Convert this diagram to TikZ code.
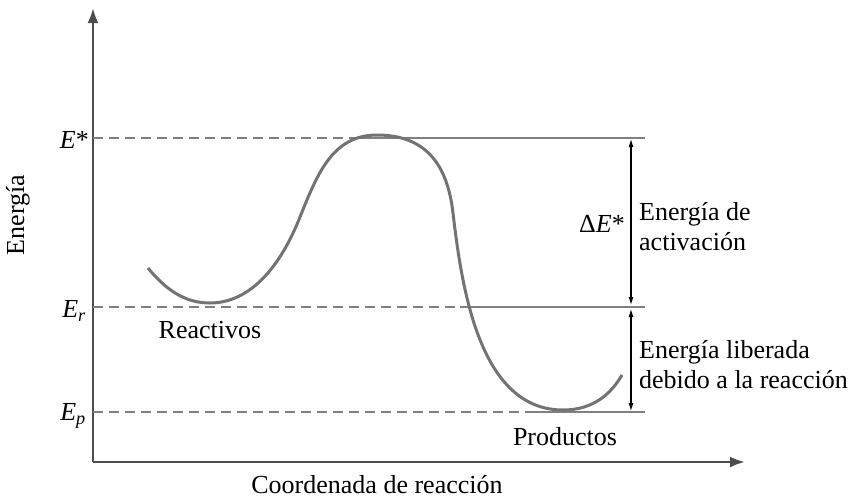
\documentclass[tikz,border=0pt]{standalone}
\usepackage{fontspec}
\setmainfont{Liberation Serif}
\usetikzlibrary{arrows.meta}

\begin{document}
\begin{tikzpicture}[x=1pt,y=-1pt,
    every node/.style={font=\fontsize{26}{30}\selectfont, inner sep=1pt},
    eje/.style={line width=2.6pt, black!70, -{Latex[length=15pt,width=11pt]}},
    nivel/.style={line width=2.2pt, black!50},
    nivelpunt/.style={nivel, dash pattern=on 10pt off 6pt},
    curva/.style={line width=3pt, black!55},
    flecha/.style={line width=1.1pt, {Latex[length=8pt,width=5pt]}-{Latex[length=8pt,width=5pt]}}]
    \useasboundingbox (0,0) rectangle (860,499);
    % ejes
    \coordinate (origen) at (93,462);
    \coordinate (ytop) at (93,8);
    \coordinate (xfin) at (745,462);
    \draw[eje] (origen) -- (ytop);
    \draw[eje] (origen) -- (xfin);
    \node[rotate=90] (energia) at (18,215) {Energía};
    \node (coord) at (377,485) {Coordenada de reacción};
    % niveles de energia
    \coordinate (Es0) at (93,138);  \coordinate (Es1) at (350,138);  \coordinate (Es2) at (645,138);
    \coordinate (Er0) at (93,307);  \coordinate (Er1) at (460,307);  \coordinate (Er2) at (645,307);
    \coordinate (Ep0) at (93,412);  \coordinate (Ep1) at (535,412);  \coordinate (Ep2) at (645,412);
    \draw[nivelpunt] (Es0) -- (Es1);  \draw[nivel] (Es1) -- (Es2);
    \draw[nivelpunt] (Er0) -- (Er1);  \draw[nivel] (Er1) -- (Er2);
    \draw[nivelpunt] (Ep0) -- (Ep1);  \draw[nivel] (Ep1) -- (Ep2);
    \node[anchor=east] (Estar) at (90,140) {\textit{E}*};
    \node[anchor=east] (Er) at (87,311) {\textit{E}\textsubscript{\textit{r}}};
    \node[anchor=east] (Ep) at (87,416) {\textit{E}\textsubscript{\textit{p}}};
    % curva de reaccion
    \draw[curva] (148,268) .. controls (170,295) and (190,303) .. (210,303)
        .. controls (245,303) and (277,275) .. (300,217)
        .. controls (317,175) and (332,135) .. (377,135)
        .. controls (430,135) and (448,170) .. (453,213)
        .. controls (462,290) and (480,410) .. (563,410)
        .. controls (595,410) and (612,392) .. (622,375);
    \node (reac) at (210,330) {Reactivos};
    \node (prod) at (565,437) {Productos};
    % diferencias de energia
    \coordinate (a1) at (631,139);
    \coordinate (a2) at (631,305);
    \coordinate (a3) at (631,309);
    \coordinate (a4) at (631,411);
    \draw[flecha] (a1) -- (a2);
    \draw[flecha] (a3) -- (a4);
    \node[anchor=east] (dE) at (626,224) {Δ\textit{E}*};
    \node[anchor=west, align=left] (act) at (638,227) {Energía de\\activación};
    \node[anchor=west, align=left] (lib) at (638,365) {Energía liberada\\debido a la reacción};
\end{tikzpicture}
\end{document}
